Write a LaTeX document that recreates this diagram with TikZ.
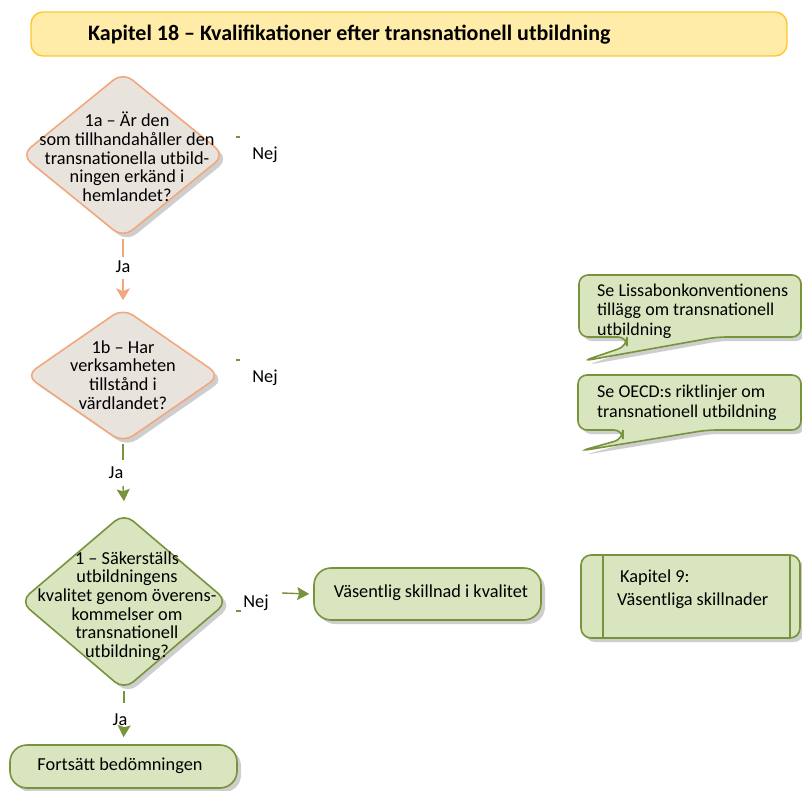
\documentclass[tikz,border=0pt]{standalone}
\usepackage{fontspec}
\setmainfont{Carlito}
\usetikzlibrary{shapes.geometric,arrows.meta,shadows,calc}
\definecolor{salm}{HTML}{F2A87E}
\definecolor{beige}{HTML}{E9E3DE}
\definecolor{grn}{HTML}{77933C}
\definecolor{lgrn}{HTML}{D9E5BF}
\definecolor{ttlfill}{HTML}{FFECA8}
\definecolor{ttlbord}{HTML}{FFC62E}
\begin{document}
\begin{tikzpicture}[x=1pt,y=-1pt,
  font=\fontsize{18.3}{18.7}\selectfont,
  shad/.style={drop shadow={opacity=0.35,shadow xshift=4pt,shadow yshift=-4pt,fill=black!55}},
  sdiamond/.style={diamond,draw=salm,fill=beige,line width=1.6pt,rounded corners=12pt,inner sep=0pt,shad},
  gdiamond/.style={diamond,draw=grn,fill=lgrn,line width=1.6pt,rounded corners=12pt,inner sep=0pt,shad},
  gbox/.style={draw=grn,fill=lgrn,line width=1.6pt,rounded corners=17pt,inner sep=0pt,shad},
  lbl/.style={inner sep=0pt,align=center},
  sline/.style={draw=salm,line width=1.4pt},
  gline/.style={draw=grn,line width=1.4pt},
  sarrow/.style={sline,-{Stealth[length=12pt,width=14pt,inset=3pt]}},
  garrow/.style={gline,-{Stealth[length=12pt,width=13pt,inset=2pt]}},
  tick/.style={draw=grn,line width=1.4pt},
  callout/.style={draw=grn,fill=lgrn,line width=1.6pt,rounded corners=9pt,shad}
]
\useasboundingbox (0,0) rectangle (802,791);

% title
\node[draw=ttlbord,fill=ttlfill,line width=1.4pt,rounded corners=12pt,minimum width=756pt,minimum height=44pt,inner sep=0pt] (title) at (409,34) {};
\node[anchor=west,inner sep=0pt,font=\bfseries\fontsize{22}{24}\selectfont] (titletext) at (88,35) {Kapitel 18 – Kvalifikationer efter transnationell utbildning};

% diamond 1a
\node[sdiamond,minimum width=204pt,minimum height=166pt] (d1a) at (123,155) {};
\node[lbl] (t1a) at (127,157) {1a – Är den\\som tillhandahåller den\\transnationella utbild-\\ningen erkänd i\\hemlandet?};
\coordinate (k1a) at (236,137);
\draw[tick] (k1a) -- ++(4,0);
\node[lbl] (nej1a) at (265,155) {Nej};

% diamond 1b
\node[sdiamond,minimum width=195pt,minimum height=135pt] (d1b) at (123,375.5) {};
\node[lbl] (t1b) at (123,375) {1b – Har\\verksamheten\\tillstånd i\\värdlandet?};
\coordinate (k1b) at (236,360);
\draw[tick] (k1b) -- ++(4,0);
\node[lbl] (nej1b) at (265,378) {Nej};

% diamond 1
\node[gdiamond,minimum width=208pt,minimum height=177pt] (d1) at (124,601.5) {};
\node[lbl] (t1) at (127,606) {1 – Säkerställs\\utbildningens\\kvalitet genom överens-\\kommelser om\\transnationell\\utbildning?};
\coordinate (k1) at (236,611);
\draw[tick] (k1) -- ++(5,0);
\node[lbl] (nej1) at (256,603) {Nej};

% Ja labels
\node[lbl] (ja1) at (123,267) {Ja};
\node[lbl] (ja2) at (116,473) {Ja};
\node[lbl] (ja3) at (120,720) {Ja};

% boxes
\node[gbox,minimum width=227pt,minimum height=52pt] (vs) at (427.5,594) {};
\node[lbl] (vstext) at (431,593) {Väsentlig skillnad i kvalitet};
\node[gbox,minimum width=227pt,minimum height=43pt] (fb) at (123.5,766.5) {};
\node[lbl] (fbtext) at (120,766) {Fortsätt bedömningen};

% Kapitel 9 box
\node[draw=grn,fill=lgrn,line width=1.6pt,rounded corners=10pt,minimum width=219pt,minimum height=83pt,inner sep=0pt,shad] (k9) at (690.5,596.5) {};
\draw[gline] (603,555) -- (603,638);
\draw[gline] (790,555) -- (790,638);
\node[anchor=west,inner sep=0pt] (k9a) at (620,578) {Kapitel 9:};
\node[anchor=west,inner sep=0pt] (k9b) at (617,601) {Väsentliga skillnader};

% callouts
\path[callout] (579,275) -- (801,275) -- (801,337) -- (717,337) -- (583,361) -- (627,346) -- (627,337) -- (579,337) -- cycle;
\node[anchor=west,inner sep=0pt,align=left,font=\fontsize{18}{19.5}\selectfont] (c1) at (597,311) {Se Lissabonkonventionens\\tillägg om transnationell\\utbildning};
\path[callout] (578,375) -- (801,375) -- (801,430) -- (707,430) -- (580,451) -- (623,439) -- (623,430) -- (578,430) -- cycle;
\node[anchor=west,inner sep=0pt,align=left,font=\fontsize{18}{19.5}\selectfont] (c2) at (597,403) {Se OECD:s riktlinjer om\\transnationell utbildning};

% connectors
\draw[sline] (d1a.south) -- (d1a.south |- 0,257);
\draw[sarrow] (d1a.south |- 0,279) -- ([yshift=7pt]d1b.north);
\draw[gline] (d1b.south) -- (d1b.south |- 0,460);
\draw[garrow] (d1b.south |- 0,486) -- ([yshift=11pt]d1.north);
\draw[gline] (d1.south) -- (d1.south |- 0,703);
\draw[garrow] (d1.south |- 0,728) -- ([yshift=7pt]fb.north);
\coordinate (nejstart) at (282,593);
\draw[garrow] (nejstart) -- ([xshift=-4pt]vs.west);
\end{tikzpicture}
\end{document}
